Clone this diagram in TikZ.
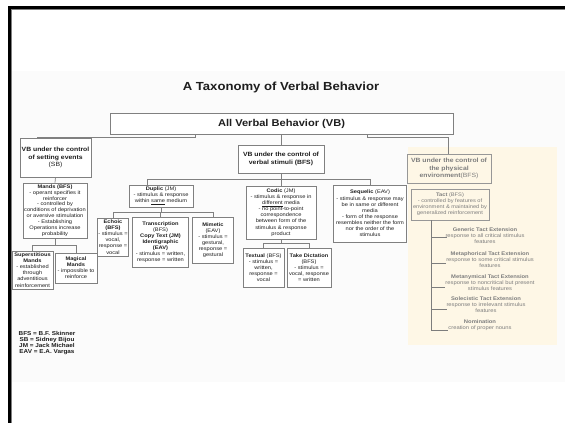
\documentclass[tikz,border=0pt]{standalone}
\usepackage{fontspec}
\setmainfont{Liberation Sans}[FakeStretch=1.12]
\definecolor{boxgray}{RGB}{128,128,128}
\definecolor{cream}{RGB}{254,247,230}
\definecolor{physgray}{RGB}{125,125,125}
\definecolor{txt}{RGB}{30,30,30}
\newcommand\fsm{\fontsize{5.1}{6.1}\selectfont}
\newcommand\fmd{\fontsize{6.1}{7.3}\selectfont}
\tikzset{
  bx/.style={draw=boxgray, line width=0.7pt, fill=white, align=center, inner sep=0.5pt, font=\fsm, text=txt},
  bxm/.style={bx, font=\fmd},
  pbx/.style={draw=physgray!80, line width=0.7pt, align=center, inner sep=0.5pt, text=physgray},
  lnk/.style={draw=boxgray, line width=0.7pt},
  plnk/.style={draw=physgray, line width=0.7pt},
  itm/.style={align=center, inner sep=0pt, font=\fontsize{5.2}{6}\selectfont, text=physgray}
}
\begin{document}
\begin{tikzpicture}[x=1pt,y=-1pt]
\useasboundingbox (0,0) rectangle (565,423);
\fill[white] (0,0) rectangle (565,423);
% slide background
\fill[black!1.5] (11,71) rectangle (565,382);
% frame
\fill[black] (8,6) rectangle (565,9.3);
\fill[black] (8,6) rectangle (11,423);
\draw[gray, line width=0.6pt] (11,9.6) -- (565,9.6);
\draw[gray, line width=0.6pt] (11.3,9.6) -- (11.3,423);
% cream region
\fill[cream] (408,147) rectangle (557,345);

\node[font=\bfseries\fontsize{11.7}{13}\selectfont, text=txt] (title) at (281,87) {A Taxonomy of Verbal Behavior};

\node[bx, font=\bfseries\fontsize{9.9}{11}\selectfont, minimum width=343pt, minimum height=21pt] (allvb) at (281.5,123.5) {All Verbal Behavior (VB)};

\node[bxm, minimum width=71pt, minimum height=39pt] (setting) at (55.5,157.5) {\textbf{VB under the control}\\\textbf{of setting events}\\(SB)};
\node[bx, font=\fontsize{5.1}{5.9}\selectfont, minimum width=64pt, minimum height=55pt] (mands) at (55,210.5) {\textbf{Mands (BFS)}\\- operant specifies it\\reinforcer\\- controlled by\\conditions of deprivation\\or aversive stimulation\\- Establishing\\Operations increase\\probability};
\node[bx, minimum width=41pt, minimum height=38pt] (superst) at (32.5,270) {\textbf{Superstitious}\\\textbf{Mands}\\- established\\through\\adventitious\\reinforcement};
\node[bx, minimum width=42pt, minimum height=30pt] (magical) at (76,268) {\textbf{Magical}\\\textbf{Mands}\\- impossible to\\reinforce};

\node[bxm, minimum width=86pt, minimum height=28pt] (verbal) at (281,159) {\textbf{VB under the control of}\\\textbf{verbal stimuli (BFS)}};

\node[bx, minimum width=64pt, minimum height=22pt] (duplic) at (161,196) {\textbf{Duplic} (JM)\\- stimulus \& response\\within \underline{same} medium};
\node[bx, minimum width=30pt, minimum height=38pt] (echoic) at (113,237) {\textbf{Echoic}\\\textbf{(BFS)}\\- stimulus =\\vocal,\\response =\\vocal};
\node[bx, minimum width=56pt, minimum height=50pt] (transc) at (160.5,242) {\textbf{Transcription}\\(BFS)\\\textbf{Copy Text (JM)}\\\textbf{Identigraphic}\\\textbf{(EAV)}\\- stimulus = written,\\response = written};
\node[bx, minimum width=41pt, minimum height=46pt] (mimetic) at (213,240) {\textbf{Mimetic}\\(EAV)\\- stimulus =\\gestural,\\response =\\gestural};

\node[bx, minimum width=70pt, minimum height=53pt] (codic) at (281,212.5) {\textbf{Codic} (JM)\\- stimulus \& response in\\\underline{different} media\\- no point-to-point\\correspondence\\between form of the\\stimulus \& response\\product};
\node[bx, minimum width=41pt, minimum height=39pt] (textual) at (263.5,267.5) {\textbf{Textual} (BFS)\\- stimulus =\\written,\\response =\\vocal};
\node[bx, minimum width=44pt, minimum height=39pt] (takedict) at (309,267.5) {\textbf{Take Dictation}\\(BFS)\\- stimulus =\\vocal, response\\= written};

\node[bx, minimum width=73pt, minimum height=57pt] (sequelic) at (370,213.5) {\textbf{Sequelic} (EAV)\\- stimulus \& response may\\be in same or different\\media\\- form of the response\\resembles neither the form\\nor the order of the\\stimulus};

\node[pbx, font=\fmd, minimum width=84pt, minimum height=29pt] (physical) at (449,168.5) {\textbf{VB under the control of}\\\textbf{the physical}\\\textbf{environment}(BFS)};
\node[pbx, font=\fsm, minimum width=78pt, minimum height=31pt] (tact) at (450,204.5) {\textbf{Tact} (BFS)\\- controlled by features of\\environment \& maintained by\\generalized reinforcement};

\node[itm] (gen) at (485,236) {\textbf{Generic Tact Extension}\\response to all critical stimulus\\features};
\node[itm] (meta) at (490,260) {\textbf{Metaphorical Tact Extension}\\response to some critical stimulus\\features};
\node[itm] (metn) at (490,283) {\textbf{Metanymical Tact Extension}\\response to noncritical but present\\stimulus features};
\node[itm] (sole) at (486,305) {\textbf{Solecistic Tact Extension}\\response to irrelevant stimulus\\features};
\node[itm] (nomi) at (480,325) {\textbf{Nomination}\\creation of proper nouns};

\node[align=center, inner sep=0pt, font=\bfseries\fontsize{5.7}{5.7}\selectfont, text=txt] (legend) at (47,343) {BFS = B.F. Skinner\\SB = Sidney Bijou\\JM = Jack Michael\\EAV = E.A. Vargas};

% connectors
\coordinate (trunk) at (431,220);
\draw[lnk] (allvb.south -| 195,0) -- (195,137) -| (setting.north -| 37,0);
\draw[lnk] (allvb.south -| verbal.north) -- (verbal.north);
\draw[lnk] (allvb.south -| 367,0) -- (367,137) -| (physical.north -| 448,0);
\draw[lnk] (setting.south) -- (mands.north);
\draw[lnk] (mands.south) -- (55,245) -| (superst.north);
\draw[lnk] (55,245) -| (magical.north);
\draw[lnk] (verbal.south) -- (281,179) -| (duplic.north -| 147,0);
\draw[lnk] (verbal.south) -- (codic.north);
\draw[lnk] (281,179) -| (sequelic.north);
\draw[lnk] (duplic.south) -- (161,212) -| (echoic.north);
\draw[lnk] (161,212) -| (transc.north);
\draw[lnk] (161,212) -| (mimetic.north);
\draw[lnk] (codic.south) -- (281,243) -| (textual.north);
\draw[lnk] (281,243) -| (takedict.north);
\draw[plnk] (trunk) -- (431,331);
\draw[plnk] (431,237) -- (447,237);
\draw[plnk] (431,263) -- (446,263);
\draw[plnk] (431,287) -- (445,287);
\draw[plnk] (431,309) -- (447,309);
\draw[plnk] (431,330) -- (448,330);
\end{tikzpicture}
\end{document}
